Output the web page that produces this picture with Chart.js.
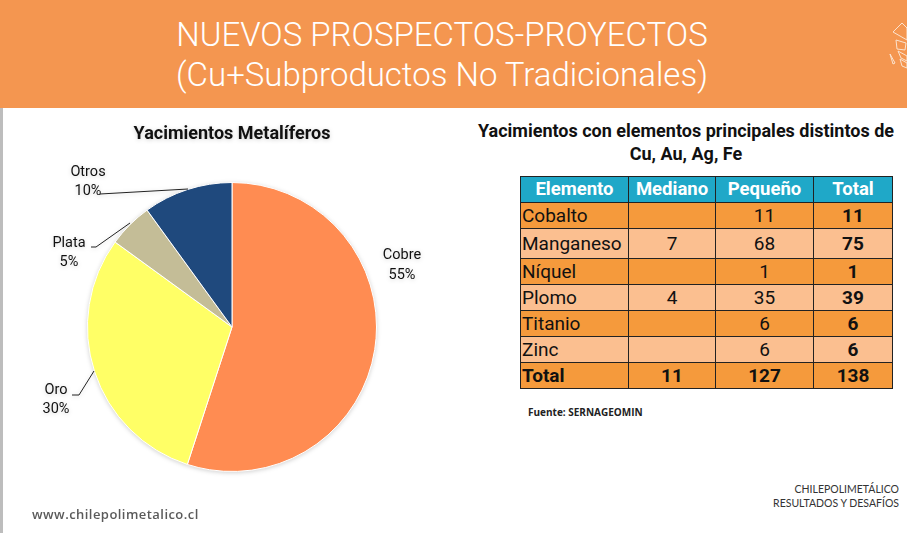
<!DOCTYPE html>
<html lang="es"><head><meta charset="utf-8">
<script src="https://cdn.jsdelivr.net/npm/chart.js@4"></script>
<style>
html,body{margin:0;padding:0;background:#fff;overflow:hidden}
#page{position:relative;width:907px;height:533px;font-family:Roboto,sans-serif;color:#111;overflow:hidden}
#band{position:absolute;left:0;top:0;width:907px;height:108px;background:#F49650}
#strip{position:absolute;left:0;top:108px;width:3px;height:425px;background:#bdbdbd}
.t{position:absolute;white-space:nowrap}
#h1,#h2{left:0;width:884px;text-align:center;color:#fff;font-weight:300;font-size:33px;line-height:38px}
#h1{top:16px}#h2{top:56px}
#sub{left:470px;width:432px;text-align:center;font-weight:700;font-size:18px;line-height:23px;top:119px;white-space:normal;color:#111}
#cw{position:absolute;left:0;top:0;width:468px;height:533px;filter:drop-shadow(0 1px 2px rgba(0,0,0,.18))}
#tb{position:absolute;left:520px;top:176px;width:372px;height:213px;border-collapse:collapse;table-layout:fixed;font-size:19px}
#tb td,#tb th{border:1px solid #222;padding:0;text-align:center;line-height:1;overflow:hidden}
#tb td:first-child{text-align:left;padding-left:1px}
#tb th{background:#1FA8C8;color:#fff;font-size:18.5px;font-weight:700}
#tb tr.o td{background:#F59A3C}#tb tr.l td{background:#FBBF90}
#tb td.b{font-weight:700}
</style></head><body>
<div id="page">
<div id="band"></div><div id="strip"></div>
<div class="t" id="h1">NUEVOS PROSPECTOS-PROYECTOS</div>
<div class="t" id="h2">(Cu+Subproductos No Tradicionales)</div>
<svg style="position:absolute;left:888px;top:20px" width="19" height="52" fill="none" stroke="#FBE3CF" stroke-width="1">
<path d="M5 12 L14 3 L19 8 V20 Z M8 20 L18 23 L17 30 L9 29 Z M10 31 L19 36 V41 L13 38 Z M12 39 L19 43 V48 L14 46 Z M2 34 L5 44 L7 43 L2 34"/></svg>
<div class="t" id="sub">Yacimientos con elementos principales distintos de Cu, Au, Ag, Fe</div>
<div id="cw"><canvas id="c" width="468" height="533"></canvas></div>
<table id="tb"><colgroup><col style="width:108px"><col style="width:87px"><col style="width:98px"><col style="width:79px"></colgroup><tbody id="body"></tbody></table>
<div class="t" style="left:528px;top:405px;font:700 10px 'Open Sans',sans-serif;color:#222">Fuente: SERNAGEOMIN</div>
<div class="t" style="left:32px;top:505px;font:600 13px 'Open Sans',sans-serif;letter-spacing:.45px;color:#5a5a5a">www.chilepolimetalico.cl</div>
<div class="t" style="right:8px;top:482px;font:400 10.5px/14px Lato,sans-serif;color:#333;text-align:right">CHILEPOLIMETÁLICO<br>RESULTADOS Y DESAFÍOS</div>
</div>
<script>
const categorias = ['Cobre','Oro','Plata','Otros'];
const porcentajes = [55,30,5,10];
const colores = ['#FF8C52','#FFFF66','#C4BD97','#1F497D'];
const elementos = ['Cobalto','Manganeso','Níquel','Plomo','Titanio','Zinc','Total'];
const mediano = ['', 7, '', 4, '', '', 11];
const pequeno = [11,68,1,35,6,6,127];
const totales = [11,75,1,39,6,6,138];
const columnas = ['Elemento','Mediano','Pequeño','Total'];
const alturasFila = [26,26,30,26,26,26,26,26];

// table
const body = document.getElementById('body');
let hr = '<tr style="height:'+alturasFila[0]+'px">'+columnas.map(c=>'<th>'+c+'</th>').join('')+'</tr>';
elementos.forEach((e,i)=>{
  const last = i===elementos.length-1;
  const cl = (i%2===0)?'o':'l';
  hr += '<tr class="'+cl+'" style="height:'+alturasFila[i+1]+'px">'+
    '<td'+(last?' class="b"':'')+'>'+e+'</td>'+
    '<td'+(last?' class="b"':'')+'>'+mediano[i]+'</td>'+
    '<td'+(last?' class="b"':'')+'>'+pequeno[i]+'</td>'+
    '<td class="b">'+totales[i]+'</td></tr>';
});
body.innerHTML = hr;

// label layout (canvas px): text centre, and elbow of the leader line
const etiquetas = [
  {x:402,y:255,dy:20},
  {x:56,y:390,dy:19,line:[[72,395],[79,395],[94,371]]},
  {x:69,y:243,dy:19,line:[[91,247],[96,247],[130,223]]},
  {x:88,y:172,dy:19,line:[[100,194],[188,189]]}
];
const rotulos = {
  id:'rotulos',
  afterDatasetsDraw(chart){
    const ctx = chart.ctx;
    ctx.save();
    ctx.font = '400 14.5px Roboto, sans-serif';
    ctx.fillStyle = '#111';
    ctx.textAlign = 'center';
    ctx.textBaseline = 'middle';
    const total = porcentajes.reduce((a,b)=>a+b,0);
    categorias.forEach((n,i)=>{
      const e = etiquetas[i];
      ctx.fillText(n,e.x,e.y);
      ctx.fillText(Math.round(porcentajes[i]/total*100)+'%',e.x,e.y+e.dy);
    });
    ctx.strokeStyle = '#222'; ctx.lineWidth = 1;
    etiquetas.forEach(e=>{
      if(!e.line) return;
      ctx.beginPath();
      e.line.forEach((p,j)=> j?ctx.lineTo(p[0],p[1]):ctx.moveTo(p[0],p[1]));
      ctx.stroke();
    });
    ctx.restore();
  }
};
Chart.defaults.font.family = 'Roboto, sans-serif';
new Chart(document.getElementById('c'),{
  type:'pie',
  data:{labels:categorias,datasets:[{data:porcentajes,backgroundColor:colores,borderColor:'#fff',borderWidth:1,hoverOffset:0}]},
  options:{
    responsive:false,animation:false,
    layout:{padding:{left:87,right:91,top:0,bottom:61}},
    plugins:{
      legend:{display:false},tooltip:{enabled:false},
      title:{display:true,text:'Yacimientos Metalíferos',color:'#111',
        font:{size:18,weight:'700',family:'Roboto, sans-serif',lineHeight:1.2},
        padding:{top:124,bottom:36.4}}
    }
  },
  plugins:[rotulos]
});
</script>
</body></html>
